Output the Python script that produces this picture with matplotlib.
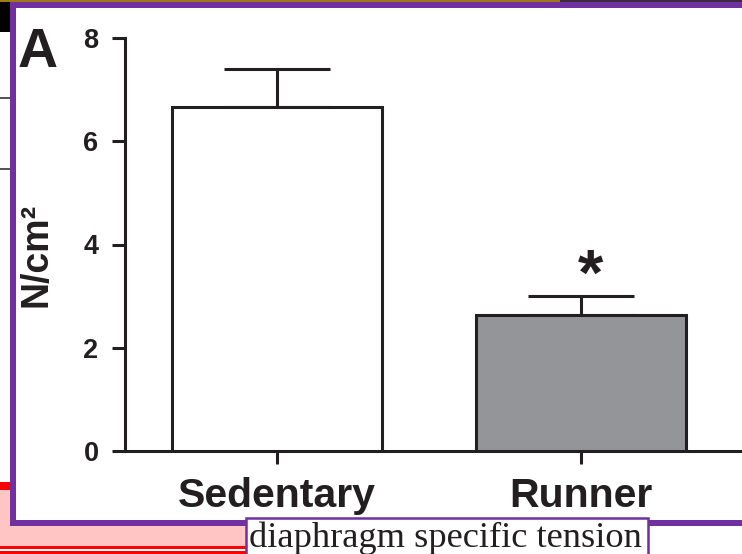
import matplotlib.pyplot as plt
from matplotlib.patches import Rectangle

# Data
groups = ['Sedentary', 'Runner']
means = [6.67, 2.63]
sem = [0.72, 0.37]
bar_colors = ['white', '#939598']
yticks = [0, 2, 4, 6, 8]

W, H = 742, 554
ink = '#231F20'
purple = '#7030A0'

plt.rcParams['font.family'] = ['Liberation Sans', 'DejaVu Sans']

fig = plt.figure(figsize=(W / 100, H / 100), dpi=100)


def px_rect(x0, y0, x1, y1, **kw):
    # rectangle given in pixel coords (origin top-left)
    r = Rectangle((x0 / W, 1 - y1 / H), (x1 - x0) / W, (y1 - y0) / H,
                  transform=fig.transFigure, **kw)
    fig.add_artist(r)
    return r


# Background decoration from the screenshot
px_rect(0, 0, 12, 32, facecolor='black', edgecolor='none', zorder=-3)
px_rect(0, 0, 560, 2, facecolor='#A07818', edgecolor='none', zorder=-3)
px_rect(560, 0, W, 2, facecolor='#3A2A40', edgecolor='none', zorder=-3)
px_rect(0, 97, 12, 98.5, facecolor='#555555', edgecolor='none', zorder=-3)
px_rect(0, 168, 12, 169.5, facecolor='#555555', edgecolor='none', zorder=-3)
px_rect(0, 482, 250, 490, facecolor='#FF0000', edgecolor='none', zorder=-3)
px_rect(0, 490, 250, 546, facecolor='#FFC4C4', edgecolor='none', zorder=-3)
px_rect(0, 546, 250, 549, facecolor='#FF0000', edgecolor='none', zorder=-3)
px_rect(0, 551, 250, 554, facecolor='#FF0000', edgecolor='none', zorder=-3)

# White panel with purple frame
px_rect(13, 5, W + 5, 523, facecolor='white', edgecolor='none', zorder=-2)
px_rect(10, 2, W, 8, facecolor=purple, edgecolor='none', zorder=-1)
px_rect(10, 2, 16, 526, facecolor=purple, edgecolor='none', zorder=-1)
px_rect(10, 520, W, 526, facecolor=purple, edgecolor='none', zorder=-1)

# Axes
ax = fig.add_axes([125 / W, (H - 451) / H, (W - 125) / W, 413 / H])
ax.set_facecolor('none')
x = [0, 1]
ax.errorbar(x, means, yerr=[[0, 0], sem], fmt='none', ecolor=ink,
            elinewidth=2.2, capsize=38, capthick=2.2, zorder=2)
ax.bar(x, means, width=0.69, color=bar_colors, edgecolor=ink,
       linewidth=2.2, zorder=3)

ax.set_xlim(-0.5, 1.53)
ax.set_ylim(0, 8)
ax.set_yticks(yticks)
ax.set_xticks(x)
ax.set_xticklabels(groups, fontsize=29.5, fontweight='bold', color=ink)
for lab in ax.get_yticklabels():
    lab.set_fontsize(19.5)
    lab.set_fontweight('bold')
    lab.set_color(ink)
ax.tick_params(axis='both', direction='out', length=9.5, width=2.2, color=ink)
ax.tick_params(axis='y', pad=9.5)
ax.tick_params(axis='x', pad=9)
for s in ['top', 'right']:
    ax.spines[s].set_visible(False)
for s in ['left', 'bottom']:
    ax.spines[s].set_linewidth(2.2)
    ax.spines[s].set_color(ink)

# Significance star
ax.text(1.03, means[1] + sem[1] + 0.02, '*', fontsize=47, fontweight='bold',
        color=ink, ha='center', va='baseline')

# Y label and panel letter
fig.text(37 / W, 1 - 255 / H, 'N/cm²', rotation=90, fontsize=27,
         fontweight='bold', color=ink, ha='center', va='center')
fig.text(18 / W, 1 - 67 / H, 'A', fontsize=40, fontweight='bold',
         color=ink, ha='left', va='baseline')

# Caption box
px_rect(246, 518, 648, 556, facecolor='white', edgecolor=purple,
        linewidth=1.8, zorder=5)
fig.text(249 / W, 1 - 547 / H, 'diaphragm specific tension', fontsize=26.2,
         family=['Liberation Serif', 'DejaVu Serif'], color=ink,
         ha='left', va='baseline', zorder=6)

fig.savefig('out.png', dpi=100)
